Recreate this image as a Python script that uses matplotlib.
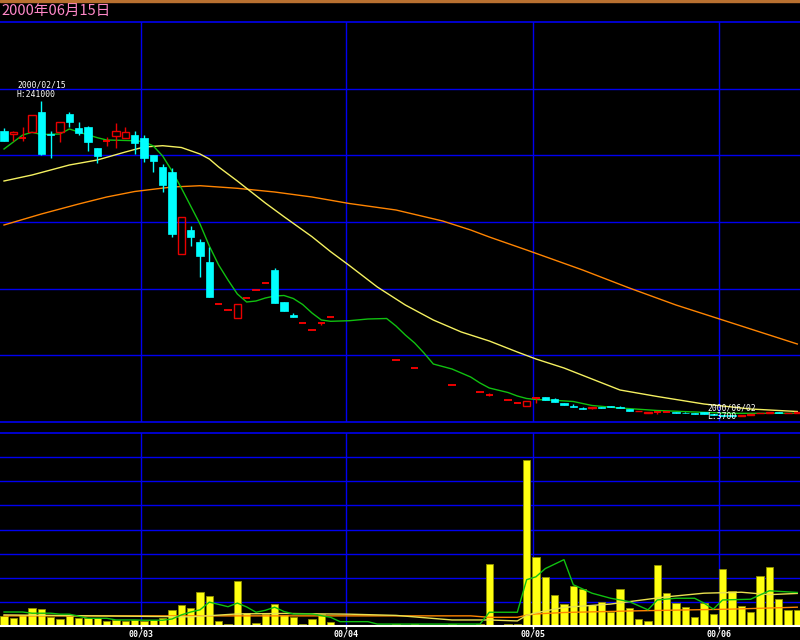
import numpy as np
import pandas as pd
import matplotlib
matplotlib.use('Agg')
import matplotlib.pyplot as plt
from matplotlib.patches import Rectangle

# trading days shown (TSE holidays removed), last two days of the range are off the right edge
holidays = ['2000-02-11', '2000-03-20', '2000-05-03', '2000-05-04', '2000-05-05']
dates = pd.bdate_range('2000-02-08', '2000-06-13')
dates = dates[~dates.isin(pd.to_datetime(holidays))]

N = None
opens = [218250, 216000, 213000, 217750, 232500, 216000, 217750, 230750, 220250, 221500,
         205250, 210750, 214750, 212750, 215250, 212750, 200250, 191000, 187750, 125750,
         144000, 135250, 120250, 88500, 83750, 78250, 93250, 98750, 104000, 114000,
         89750, 80250, 74250, 69000, 74000, 78500, N, N, N, N,
         N, N, 46250, N, 40250, N, N, N, 27750, N,
         N, 22250, 20250, N, 16250, 14000, 11750, 17750, 18500, 17000,
         14500, 12250, 10750, 10500, 11250, 12000, 11500, 9750, 8000, 6500,
         7250, 7250, 7500, 7000, 6500, 7500, 6000, 5250, 5000, 4500,
         5500, 6500, 7000, 7250, 6750, 7000]
highs = [220250, 218250, 221250, 230250, 241000, 218250, 225250, 232250, 225250, 222000,
         205500, 214000, 224500, 221500, 218500, 215250, 200250, 193250, 190750, 154000,
         147000, 137250, 131500, 88500, 83750, 88500, 93250, 98750, 104000, 115250,
         89750, 82000, 74250, 69000, 74000, 78500, N, N, N, N,
         N, N, 46250, N, 40250, N, N, N, 27750, N,
         N, 22250, 21500, N, 16250, 14000, 16000, 18750, 19000, 18250,
         14500, 13250, 11000, 11500, 11500, 12250, 11750, 10000, 8500, 7500,
         7750, 7250, 7500, 7250, 6750, 7500, 6000, 5500, 5250, 5500,
         6250, 7000, 7250, 7250, 7000, 7500]
lows = [210750, 210750, 210750, 217750, 200500, 198000, 210250, 221500, 215250, 203500,
        194000, 207000, 205250, 212750, 201000, 195250, 187250, 172750, 139000, 125750,
        132250, 109000, 94000, 88500, 83750, 78250, 93250, 98750, 104000, 89000,
        83500, 78500, 74250, 69000, 72500, 78500, N, N, N, N,
        N, N, 46250, N, 40250, N, N, N, 27750, N,
        N, 22250, 19500, N, 16250, 14000, 11750, 14500, 16500, 14750,
        13000, 11500, 9500, 10000, 10500, 11250, 10500, 8500, 8000, 6500,
        6000, 7250, 7000, 6500, 6250, 6000, 5250, 4750, 3700, 4500,
        5500, 6500, 7000, 6750, 6750, 7000]
closes = [211000, 217500, 213000, 230250, 201000, 215000, 225250, 224750, 217000, 210250,
          199500, 210750, 218250, 217250, 209000, 197750, 196000, 177750, 140750, 154000,
          139000, 124750, 94000, 88500, 83750, 88500, 93250, 98750, 104000, 89000,
          83500, 78500, 74250, 69000, 74000, 78500, N, N, N, N,
          N, N, 46250, N, 40250, N, N, N, 27750, N,
          N, 22250, 20250, N, 16250, 14000, 16000, 17750, 16500, 14750,
          13000, 11500, 9750, 11250, 10500, 11250, 10500, 8500, 8500, 7500,
          7250, 7250, 7000, 6500, 6250, 6000, 5250, 4750, 4500, 5500,
          6250, 7000, 7250, 6750, 7000, 7500]
volume = [4200, 3500, 4500, 7500, 7000, 3600, 2800, 4000, 3300, 3200,
          3200, 2000, 2600, 2100, 2400, 2100, 2400, 3300, 6800, 8600,
          7600, 13900, 12500, 2000, 700, 18800, 5400, 1100, 5100, 9000,
          4500, 3800, 800, 3000, 4900, 1700, 0, 0, 0, 0,
          0, 0, 700, 0, 700, 0, 0, 0, 700, 0,
          0, 700, 25700, 0, 700, 700, 69000, 28600, 20400, 13000,
          9300, 16400, 15300, 8600, 10000, 5800, 15500, 7600, 2800, 2000,
          25400, 13600, 9500, 7800, 3600, 9600, 5000, 23500, 14600, 8200,
          5700, 20700, 24300, 11000, 6500, 6800]

# moving averages (day index, value)
ma5_days = [0, 2, 3, 4, 6, 7, 8, 10, 11, 14, 15, 16, 17, 18, 19, 20, 21, 22, 23, 24, 25,
            26, 27, 28, 29, 30, 31, 32, 33, 34, 35, 37, 39, 41, 42, 43, 44, 45, 46, 47, 48,
            49, 50, 51, 52, 54, 55, 56, 57, 59, 61, 63, 66, 70, 74, 78, 85]
ma5 = [204750, 215250, 217275, 215625, 216000, 219750, 217500, 213225, 211500, 210975,
       210225, 207000, 199500, 188250, 175500, 162000, 148500, 132000, 117750, 106500, 96000,
       90000, 90750, 93000, 94500, 94875, 92625, 88125, 81750, 76500, 75525, 75975, 77250,
       77625, 72000, 65250, 59250, 51750, 43500, 41625, 39750, 36750, 33750, 29250, 25500,
       22125, 19500, 17625, 16875, 16275, 15375, 12375, 10500, 8625, 7500, 6525, 6525]
ma25_days = [0, 3, 7, 10, 13, 15, 17, 19, 21, 22, 23, 25, 28, 30, 33, 35, 37, 40, 43, 46,
             49, 52, 55, 57, 60, 63, 66, 70, 75, 80, 85]
ma25 = [180750, 185250, 192750, 196500, 202500, 206250, 207225, 205875, 201000, 197250,
        191250, 180750, 164250, 153975, 138975, 127725, 117375, 101250, 87750, 76500,
        67500, 60750, 52500, 47250, 40500, 32250, 24000, 19125, 13500, 9750, 7875]
ma75_days = [0, 4, 8, 11, 14, 18, 21, 25, 29, 33, 37, 42, 47, 50, 52, 56, 62, 67, 72, 77, 81, 85]
ma75 = [147750, 156000, 163500, 168750, 172875, 176250, 177225, 175275, 172500, 168750,
        163875, 159000, 150750, 144000, 138750, 129000, 114000, 100500, 87750, 76500, 67500, 58500]

vma5_days = [0, 2, 3, 5, 6, 7, 9, 11, 12, 14, 15, 17, 18, 19, 20, 21, 22, 24, 25, 26, 27,
             28, 29, 30, 31, 33, 35, 36, 39, 40, 51, 52, 55, 56, 57, 58, 60, 61, 63, 65, 67,
             69, 70, 72, 74, 75, 76, 77, 80, 82, 85]
vma5 = [5800, 5800, 5300, 5300, 4900, 4900, 3200, 3200, 2500, 2500, 2400, 2400, 2900, 4600,
        5800, 6700, 9900, 8000, 9500, 7900, 5700, 6500, 7800, 6000, 5000, 5000, 3600, 1800,
        1800, 800, 800, 5700, 5700, 19200, 20400, 23800, 27500, 17100, 13600, 11500, 10100,
        6700, 10800, 11500, 11500, 9500, 7000, 10800, 11100, 14600, 13900]
vma25_days = [0, 10, 20, 25, 30, 37, 42, 48, 52, 55, 56, 57, 60, 65, 71, 75, 79, 82, 85]
vma25 = [4600, 4200, 3800, 5000, 5200, 4900, 4400, 2500, 2500, 2100, 4400, 5500, 7700,
         9100, 12100, 13600, 14000, 13000, 13500]
vma75_days = [0, 50, 52, 55, 56, 57, 60, 68, 78, 85]
vma75 = [4200, 4200, 3600, 3600, 4500, 5000, 5600, 6300, 7000, 7800]

o = np.array(opens, dtype=float)
h = np.array(highs, dtype=float)
l = np.array(lows, dtype=float)
c = np.array(closes, dtype=float)
x = np.arange(len(dates))

grid = '#0000F0'
cyan = '#00FFFF'
red = '#E80000'

fig = plt.figure(figsize=(8, 6.4), dpi=100, facecolor='black')

#price panel
ax = fig.add_axes([0, 218/640, 1, 400/640])
ax.set_facecolor('black')
ax.set_xlim(-0.43, 85.29)
ax.set_ylim(0, 300000)
for y in range(50000, 300000, 50000):
    ax.axhline(y, color=grid, lw=1, zorder=0)

month_idx = np.where(np.diff(dates.month) != 0)[0] + 1
for m in month_idx:
    ax.axvline(m - 0.35, color=grid, lw=1, zorder=0)

ax.plot(ma75_days, ma75, color='#FF8400', lw=1, zorder=2)
ax.plot(ma25_days, ma25, color='#F4F060', lw=1, zorder=2)
ax.plot(ma5_days, ma5, color='#10C010', lw=1, zorder=2)

for i in x:
    if np.isnan(c[i]):
        continue
    if c[i] < o[i]:
        ax.vlines(i, l[i], h[i], color=cyan, lw=1, zorder=3)
        ax.bar(i, o[i] - c[i], bottom=c[i], width=0.8, color=cyan, edgecolor=cyan, lw=0.5, zorder=4)
    elif c[i] > o[i]:
        ax.vlines(i, l[i], o[i], color=red, lw=1, zorder=3)
        ax.vlines(i, c[i], h[i], color=red, lw=1, zorder=3)
        ax.bar(i, c[i] - o[i], bottom=o[i], width=0.8, facecolor='none', edgecolor=red, lw=1, zorder=4)
    else:
        if h[i] > l[i]:
            ax.vlines(i, l[i], h[i], color=red, lw=1, zorder=3)
        ax.hlines(c[i], i - 0.4, i + 0.4, color='#FF0000', lw=1.3, zorder=4)

ih = int(np.nanargmax(h))
il = int(np.nanargmin(l))
ax.annotate('%s\nH:%d' % (dates[ih].strftime('%Y/%m/%d'), h[ih]), (ih, h[ih]), xytext=(0, 2),
            textcoords='offset pixels', ha='center', va='bottom', multialignment='left',
            color='white', fontsize=5.8, family='DejaVu Sans Mono', linespacing=1.0,
            annotation_clip=False, zorder=6)
ax.annotate('%s\nL:%d' % (dates[il].strftime('%Y/%m/%d'), l[il]), (il, l[il]), xytext=(0, -4),
            textcoords='offset pixels', ha='center', va='bottom', multialignment='left',
            color='white', fontsize=5.8, family='DejaVu Sans Mono', linespacing=1.0,
            annotation_clip=False, zorder=6)

for s in ['left', 'right']:
    ax.spines[s].set_visible(False)
for s in ['top', 'bottom']:
    ax.spines[s].set_color(grid)
    ax.spines[s].set_linewidth(1.2)
ax.set_xticks([])
ax.set_yticks([])

#volume panel
av = fig.add_axes([0, 14/640, 1, 193/640])
av.set_facecolor('black')
av.set_xlim(-0.43, 85.29)
av.set_ylim(0, 80000)
for y in range(10000, 80000, 10000):
    av.axhline(y, color=grid, lw=1, zorder=0)
for m in month_idx:
    av.axvline(m - 0.35, color=grid, lw=1, zorder=0)

av.bar(x, volume, width=0.8, color='#FFFF10', edgecolor='#909000', lw=0.6, zorder=2)
av.plot(vma75_days, vma75, color='#FF8400', lw=1, zorder=3)
av.plot(vma25_days, vma25, color='#E8E050', lw=1, zorder=3)
av.plot(vma5_days, vma5, color='#10C010', lw=1, zorder=3)

for s in ['left', 'right']:
    av.spines[s].set_visible(False)
av.spines['top'].set_color(grid)
av.spines['top'].set_linewidth(1.2)
av.spines['bottom'].set_color('white')
av.spines['bottom'].set_linewidth(1.5)
av.set_yticks([])
av.set_xticks(month_idx - 0.35)
av.set_xticklabels([dates[m].strftime('%y/%m') for m in month_idx], family='DejaVu Sans Mono',
                   fontsize=6, fontweight='bold')
av.tick_params(axis='x', colors='white', length=2.5, width=1, pad=0)

#header
fig.patches.append(Rectangle((0, 1 - 2/640), 1, 2/640, transform=fig.transFigure,
                             color='#B87030', zorder=5))
fig.text(1/800, 1 - 11/640, '2000年06月15日', color='#FF88C8', fontsize=10.5,
         family=['Noto Sans CJK JP', 'DejaVu Sans'], ha='left', va='center')

fig.savefig('out.png', dpi=100, facecolor='black')
